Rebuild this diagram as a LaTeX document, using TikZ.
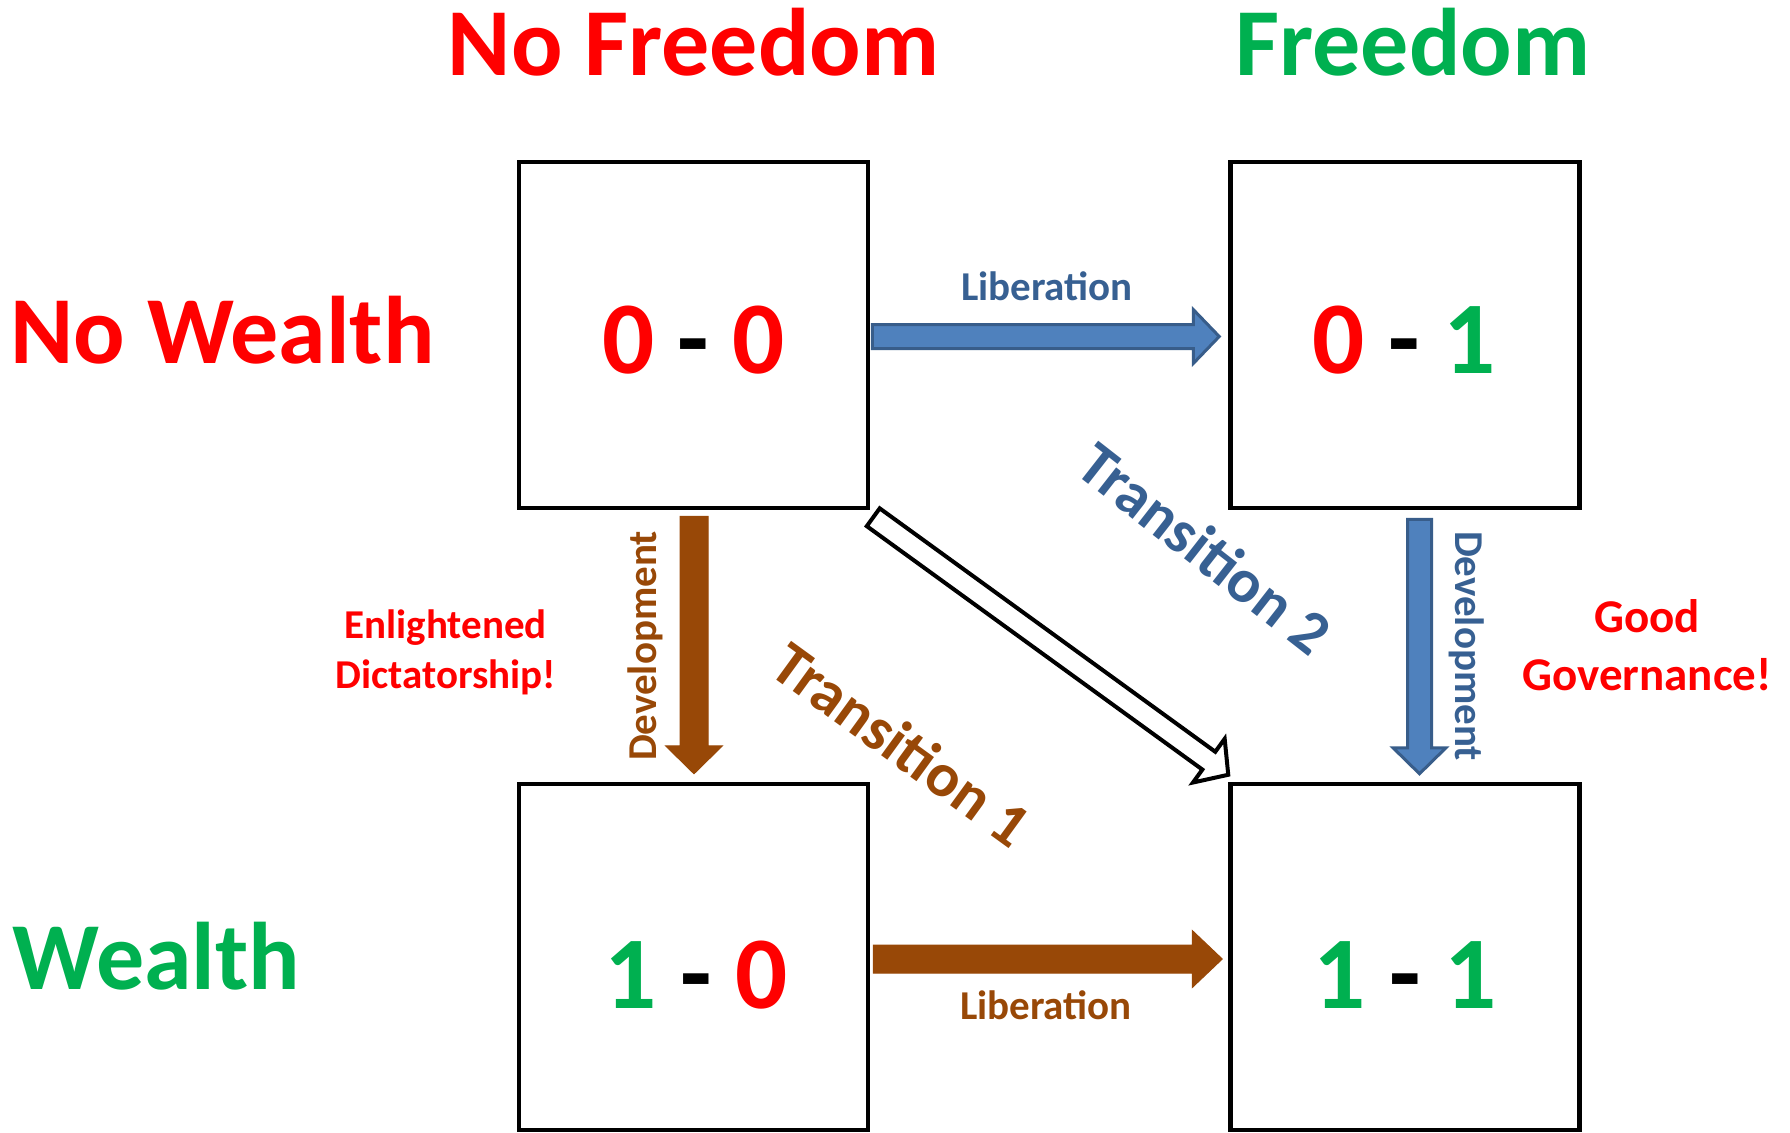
\documentclass[tikz,border=0pt]{standalone}
\usepackage{fontspec}
\setmainfont{Carlito}
\usetikzlibrary{calc}
\definecolor{cred}{HTML}{FF0000}
\definecolor{cgreen}{HTML}{00B050}
\definecolor{cblue}{HTML}{376092}
\definecolor{cbrown}{HTML}{984807}
\definecolor{afill}{HTML}{4F81BD}
\definecolor{aline}{HTML}{385D8A}
% block arrow: #1 style, #2 start, #3 tip, #4 shaft half width, #5 head half width, #6 head length
\newcommand\BlkArrow[6]{%
  \coordinate (ba-h) at ($(#3)!#6!(#2)$);
  \draw[#1] ($(#2)!#4!90:(#3)$) -- ($(ba-h)!#4!90:(#3)$) -- ($(ba-h)!#5!90:(#3)$)
    -- (#3) -- ($(ba-h)!#5!-90:(#3)$) -- ($(ba-h)!#4!-90:(#3)$)
    -- ($(#2)!#4!-90:(#3)$) -- cycle;
}
\begin{document}
\begin{tikzpicture}[x=0.5pt,y=-0.5pt,
  box/.style={draw=black, line width=2.25pt, minimum width=174.5pt, minimum height=173pt, inner sep=0pt},
  title/.style={font=\fontsize{48}{57}\selectfont\bfseries, anchor=base, inner sep=0pt},
  digits/.style={font=\fontsize{51.5}{60}\selectfont\bfseries, anchor=base, inner sep=0pt},
  lbl/.style={font=\fontsize{20.5}{25}\selectfont\bfseries, inner sep=0pt},
  biglbl/.style={font=\fontsize{23.5}{28}\selectfont\bfseries, inner sep=0pt, anchor=base, text=cred},
  trans/.style={font=\fontsize{31}{37}\selectfont\bfseries, inner sep=0pt},
  bluearrow/.style={fill=afill, draw=aline, line width=1.5pt, line join=miter},
  brownarrow/.style={fill=cbrown, draw=cbrown, line width=0.5pt, line join=miter},
  hollowarrow/.style={fill=white, draw=black, line width=2pt, line join=miter}]
\useasboundingbox (0,0) rectangle (1790,1132);

% headings
\node[title, text=cred]   (hnf) at (693.5,75) {No Freedom};
\node[title, text=cgreen] (hf)  at (1413,75)  {Freedom};
\node[title, text=cred, anchor=base west]   (hnw) at (10,363) {No Wealth};
\node[title, text=cgreen, anchor=base west] (hw)  at (12,989) {Wealth};

% boxes
\node[box] (b00) at (693.5,335) {};
\node[box] (b01) at (1405,335) {};
\node[box] (b10) at (693.5,957) {};
\node[box] (b11) at (1405,957) {};

% box contents
\node[digits] (t00) at (693.5,373) {\textcolor{cred}{0} \textcolor{black}{-} \textcolor{cred}{0}};
\node[digits] (t01) at (1404,373) {\textcolor{cred}{0} \textcolor{black}{-} \textcolor{cgreen}{1}};
\node[digits] (t10) at (696,1008) {\textcolor{cgreen}{1} \textcolor{black}{-} \textcolor{cred}{0}};
\node[digits] (t11) at (1405,1008) {\textcolor{cgreen}{1} \textcolor{black}{-} \textcolor{cgreen}{1}};

% arrow end points
\coordinate (s1) at ($(b00.east)+(2,1.5)$);
\coordinate (e1) at ($(b01.west)+(-9,1.5)$);
\coordinate (s2) at ($(b10.east)+(3,2)$);
\coordinate (e2) at ($(b11.west)+(-6,2)$);
\coordinate (s3) at ($(b00.south)+(0.5,6)$);
\coordinate (e3) at ($(b10.north)+(0.5,-8)$);
\coordinate (s4) at ($(b01.south)+(14.5,9)$);
\coordinate (e4) at ($(b11.north)+(14.5,-8)$);
\coordinate (s5) at ($(b00.south east)+(3,7)$);
\coordinate (e5) at ($(b11.north west)+(0,-7)$);

% arrows
\BlkArrow{bluearrow}{s1}{e1}{6pt}{13.5pt}{13pt}
\BlkArrow{brownarrow}{s2}{e2}{7pt}{14.25pt}{15pt}
\BlkArrow{brownarrow}{s3}{e3}{7pt}{14.25pt}{14pt}
\BlkArrow{bluearrow}{s4}{e4}{6pt}{13.25pt}{13pt}
\BlkArrow{hollowarrow}{s5}{e5}{5.5pt}{13.5pt}{12pt}

% arrow labels
\node[lbl, text=cblue, anchor=base]  (l1) at (1047,300) {Liberation};
\node[lbl, text=cbrown, anchor=base] (l2) at (1046,1019) {Liberation};
\node[lbl, text=cbrown, rotate=90]   (l3) at (645.5,646) {Development};
\node[lbl, text=cblue, rotate=-90]   (l4) at (1467,646) {Development};
\node[trans, text=cbrown, rotate=-36] (tr1) at (902,744) {Transition 1};
\node[trans, text=cblue, rotate=-38]  (tr2) at (1205,548) {Transition 2};

% side notes
\node[lbl, text=cred, anchor=base] (ed1) at (445.7,638) {Enlightened};
\node[lbl, text=cred, anchor=base] (ed2) at (445.7,688) {Dictatorship!};
\node[biglbl] (gg1) at (1647,632) {Good};
\node[biglbl] (gg2) at (1647,690) {Governance!};
\end{tikzpicture}
\end{document}
